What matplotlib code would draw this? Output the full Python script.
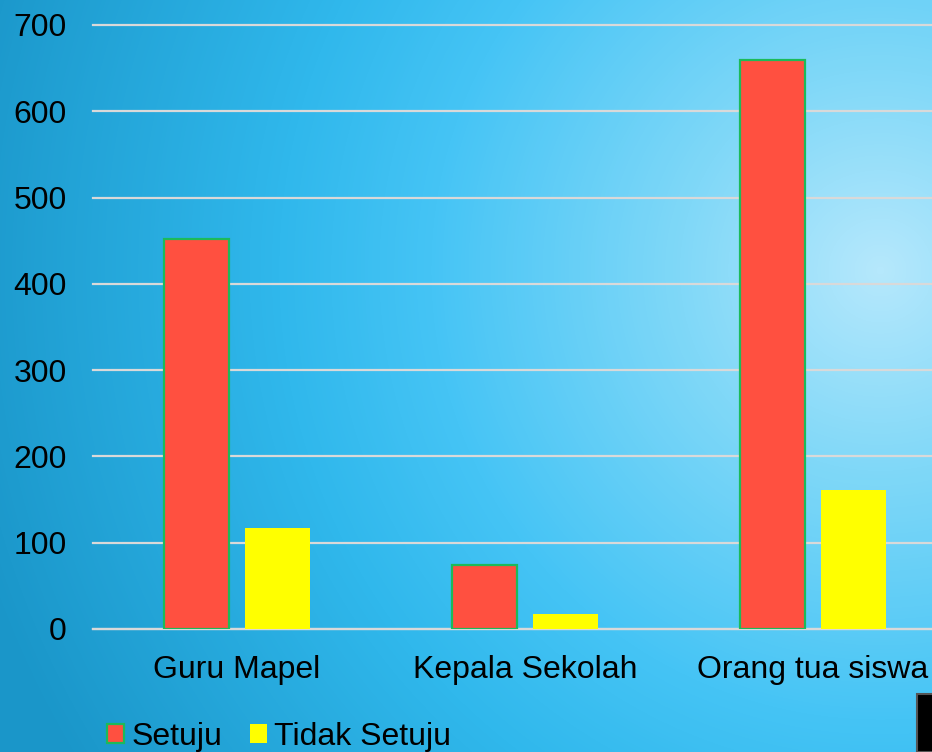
import numpy as np
import matplotlib.pyplot as plt
from matplotlib.colors import LinearSegmentedColormap
from matplotlib.patches import Patch, Rectangle

plt.rcParams['font.family'] = ['Liberation Sans', 'DejaVu Sans']

categories = ["Guru Mapel", "Kepala Sekolah", "Orang tua siswa"]
setuju = [452, 74, 660]
tidak_setuju = [117, 17, 161]
yticks = [0, 100, 200, 300, 400, 500, 600, 700]

W, H = 932, 752
fig = plt.figure(figsize=(W / 100, H / 100), dpi=100)

# background: radial gradient, bright spot near upper right
bg = fig.add_axes([0, 0, 1, 1], zorder=-10)
yy, xx = np.mgrid[0:H, 0:W]
d = np.hypot(xx - 880, yy - 270)
cmap = LinearSegmentedColormap.from_list(
    "bg", [(0.0, "#b5e8fc"), (200 / 950, "#80d8f8"), (450 / 950, "#45c4f5"),
           (600 / 950, "#30b8ec"), (1.0, "#1a96c9")])
bg.imshow(np.clip(d / 950, 0, 1), cmap=cmap, vmin=0, vmax=1,
          extent=[0, 1, 0, 1], aspect="auto", origin="upper")
bg.set_axis_off()

# black corner from the slide
fig.patches.append(Rectangle((917 / W, 0), 20 / W, 58 / H, transform=fig.transFigure,
                             facecolor="black", edgecolor="#555555", lw=1.5, zorder=5))

ax = fig.add_axes([93 / W, (H - 629) / H, 864 / W, 604 / H])
ax.patch.set_alpha(0)
x = np.arange(len(categories))
w = 0.225
ax.bar(x - 0.142, setuju, w, color="#ff5040", edgecolor="#1cba5a", linewidth=1.6, zorder=3)
ax.bar(x + 0.142, tidak_setuju, w, color="#ffff00", zorder=3)

ax.set_xlim(-0.5, 2.5)
ax.set_ylim(0, 700)
ax.set_yticks(yticks)
ax.set_xticks(x)
ax.set_xticklabels(categories)
ax.yaxis.grid(True, color="#d9d9d9", linewidth=1.6, zorder=0)
for gl in ax.get_ygridlines():
    gl.set_clip_on(False)
ax.set_axisbelow(True)
for s in ["top", "right", "left"]:
    ax.spines[s].set_visible(False)
ax.spines["bottom"].set_color("#d9d9d9")
ax.spines["bottom"].set_linewidth(1.6)
ax.tick_params(axis="both", length=0, labelsize=23, colors="black")
ax.tick_params(axis="y", pad=19)
ax.tick_params(axis="x", pad=19)

handles = [Patch(facecolor="#ff5040", edgecolor="#1cba5a", linewidth=1.6),
           Patch(facecolor="#ffff00")]
fig.legend(handles, ["Setuju", "Tidak Setuju"], ncol=2, loc="lower left",
           bbox_to_anchor=(85 / W, -22 / H), frameon=False, fontsize=23,
           handlelength=0.53, handleheight=0.53, handletextpad=0.22,
           columnspacing=0.87, borderpad=0.2)

plt.savefig("out.png", dpi=100)
